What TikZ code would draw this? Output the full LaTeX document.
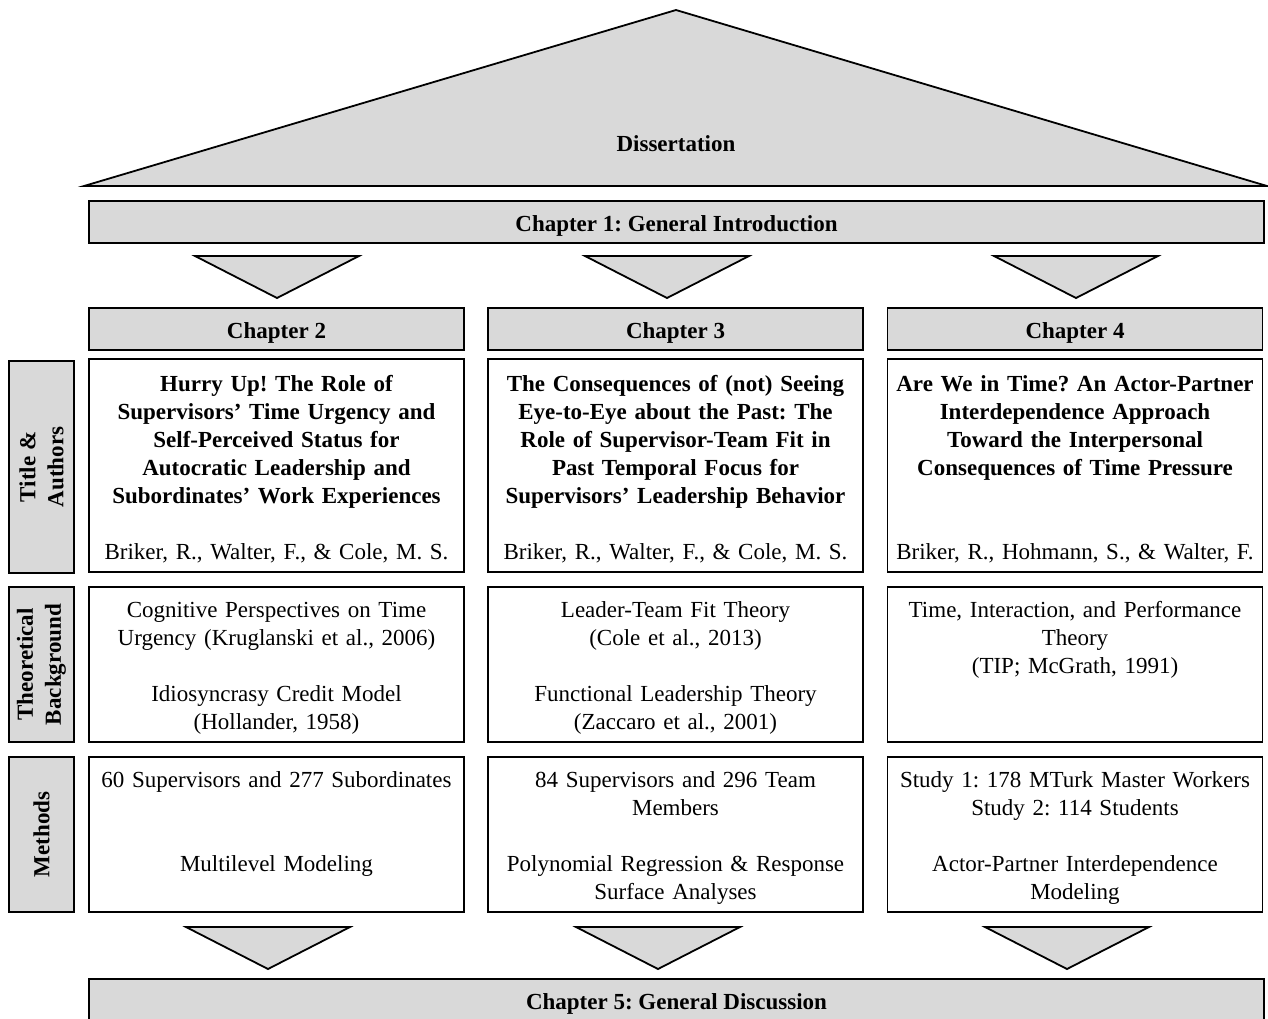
\documentclass[tikz,border=0pt]{standalone}
\usepackage{fontspec}
\setmainfont{Liberation Serif}
\frenchspacing
\usetikzlibrary{positioning}
\definecolor{boxgray}{HTML}{D9D9D9}
\newcommand{\emptyline}{\rule[-2.5pt]{0pt}{2.5pt}}
\tikzset{
	% Define basic box style
	box/.style={
		rectangle,
		draw,
		line width=0.9pt,
		inner sep=0,
		align=center,
		font=\fontsize{11.5}{14}\selectfont
	},
	% push text a bit down
	drop/.style={
		execute at begin node={\rule{0pt}{11.5pt}}
	},
	% gray headers, bars and row labels
	gray/.style={
		box,
		fill=boxgray,
		font=\fontsize{11.5}{14}\selectfont\bfseries
	},
	hdr/.style={
		gray,
		drop,
		minimum width=187.5pt,
		minimum height=21pt
	},
	bar/.style={
		hdr,
		minimum width=587.5pt
	},
	side/.style={
		gray,
		rotate=90,
		minimum height=32.5pt
	},
	% white content boxes
	cell/.style={
		box,
		drop,
		fill=white,
		text width=185pt,
		minimum width=187.5pt,
		minimum height=77.5pt
	},
	tri/.style={
		draw,
		fill=boxgray,
		line width=0.9pt
	}
}

\begin{document}
\begin{tikzpicture}[x=0.5pt, y=-0.5pt]
\useasboundingbox (0,0) rectangle (1268,1018);

% roof
\draw[tri] (84,186) -- (676,10) -- (1267,186) -- cycle;
\node[font=\fontsize{11.5}{14}\selectfont\bfseries] at (676,144) (diss) {Dissertation};

\node[bar] at (676.5,222) (ch1) {Chapter 1: General Introduction};

\foreach \x in {277,667,1076}
	\draw[tri] ({\x-82},256) -- ({\x+82},256) -- (\x,298) -- cycle;

% chapters
\node[hdr] at (276.5,329) (ch2) {Chapter 2};
\node[hdr] at (675.5,329) (ch3) {Chapter 3};
\node[hdr] at (1075,329) (ch4) {Chapter 4};

% row labels
\node[side, minimum width=106pt] at (41.5,467) (labtitle) {Title \&\\Authors};
\node[side, minimum width=77.5pt] at (41.5,664.5) (labtheory) {Theoretical\\Background};
\node[side, minimum width=77.5pt] at (41.5,834.5) (labmethods) {Methods};

% titles and authors
\node[cell, minimum height=106.5pt] at (276.5,465.5) (title2) {{\bfseries Hurry Up! The Role of\\Supervisors' Time Urgency and\\Self-Perceived Status for\\Autocratic Leadership and\\Subordinates' Work Experiences}\\[14pt]Briker, R., Walter, F., \& Cole, M. S.};
\node[cell, minimum height=106.5pt] at (675.5,465.5) (title3) {{\bfseries The Consequences of (not) Seeing\\Eye-to-Eye about the Past: The\\Role of Supervisor-Team Fit in\\Past Temporal Focus for\\Supervisors' Leadership Behavior}\\[14pt]Briker, R., Walter, F., \& Cole, M. S.};
\node[cell, minimum height=106.5pt] at (1075,465.5) (title4) {{\bfseries Are We in Time? An Actor-Partner\\Interdependence Approach\\Toward the Interpersonal\\Consequences of Time Pressure}\\[28pt]Briker, R., Hohmann, S., \& Walter, F.};

% theoretical background
\node[cell] at (276.5,664.5) (theory2) {Cognitive Perspectives on Time\\Urgency (Kruglanski et al., 2006)\\[14pt]Idiosyncrasy Credit Model\\(Hollander, 1958)};
\node[cell] at (675.5,664.5) (theory3) {Leader-Team Fit Theory\\(Cole et al., 2013)\\[14pt]Functional Leadership Theory\\(Zaccaro et al., 2001)};
\node[cell] at (1075,664.5) (theory4) {Time, Interaction, and Performance\\Theory\\(TIP; McGrath, 1991)\\[14pt]\emptyline};

% methods
\node[cell] at (276.5,834.5) (methods2) {60 Supervisors and 277 Subordinates\\[28pt]Multilevel Modeling\\\emptyline};
\node[cell] at (675.5,834.5) (methods3) {84 Supervisors and 296 Team\\Members\\[14pt]Polynomial Regression \& Response\\Surface Analyses};
\node[cell] at (1075,834.5) (methods4) {Study 1: 178 MTurk Master Workers\\Study 2: 114 Students\\[14pt]Actor-Partner Interdependence\\Modeling};

\foreach \x in {268,658,1067}
	\draw[tri] ({\x-82},927) -- ({\x+82},927) -- (\x,969) -- cycle;

\node[bar] at (676.5,1000) (ch5) {Chapter 5: General Discussion};

\end{tikzpicture}
\end{document}
